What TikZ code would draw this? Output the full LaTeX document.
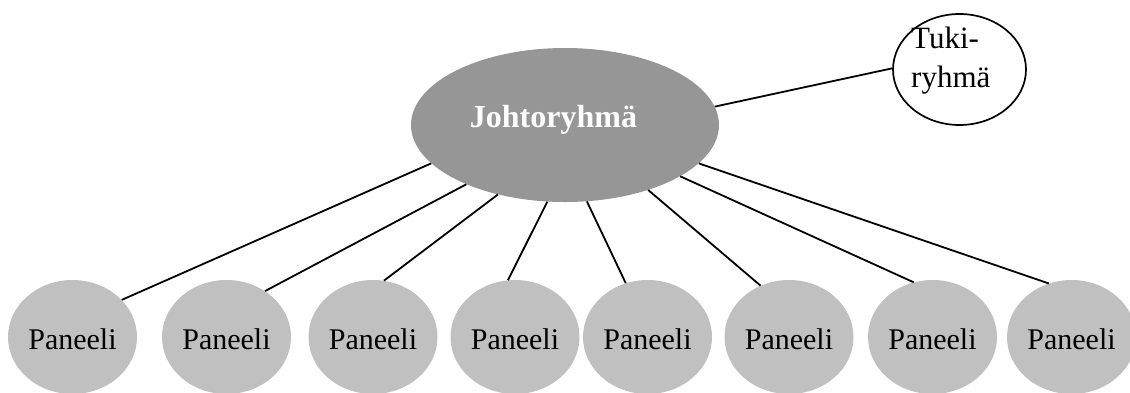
\documentclass[tikz,border=0pt]{standalone}
\usepackage{fontspec}
\setmainfont{Liberation Serif}
\usetikzlibrary{shapes.geometric}
\definecolor{headgray}{RGB}{150,150,150}
\definecolor{panelgray}{RGB}{192,192,192}
\begin{document}
\begin{tikzpicture}[x=1pt,y=-1pt,
  head/.style={ellipse,fill=headgray,minimum width=308pt,minimum height=154pt,inner sep=0pt},
  headtext/.style={inner sep=0pt,anchor=base,text=white,font=\bfseries\fontsize{32}{38}\selectfont},
  panel/.style={ellipse,fill=panelgray,minimum width=129pt,minimum height=114pt,inner sep=0pt,
    text height=24pt,text depth=0pt,font=\fontsize{30}{36}\selectfont},
  support/.style={ellipse,draw,line width=1.7pt,fill=white,minimum width=133pt,minimum height=111pt,inner sep=0pt},
  supporttext/.style={inner sep=0pt,anchor=base west,font=\fontsize{31}{37}\selectfont},
  link/.style={line width=1.8pt}]
\useasboundingbox (0,0) rectangle (1130,392);

% steering group and support group
\node[head] (J) at (565,125) {};
\node[headtext] (Jt) at (553.5,127) {Johtoryhmä};
\node[support] (T) at (959.5,69.5) {};
\node[supporttext] (Tt1) at (911,48) {Tuki-};
\node[supporttext] (Tt2) at (911,87) {ryhmä};

% panels
\node[panel] (P1) at (72.5,337) {Paneeli};
\node[panel] (P2) at (226.5,337) {Paneeli};
\node[panel] (P3) at (373,337) {Paneeli};
\node[panel] (P4) at (515,337) {Paneeli};
\node[panel] (P5) at (647.5,337) {Paneeli};
\node[panel] (P6) at (789,337) {Paneeli};
\node[panel] (P7) at (932.5,337) {Paneeli};
\node[panel] (P8) at (1071.5,337) {Paneeli};

% connections
\draw[link] (J.7) -- (T.179);
\draw[link] (J.196) -- (P1.37);
\draw[link] (J.211) -- (P2.50);
\draw[link] (J.226) -- (P3.79);
\draw[link] (J.257) -- (P4.97);
\draw[link] (J.286) -- (P5.112);
\draw[link] (J.322) -- (P6.119);
\draw[link] (J.336) -- (P7.109);
\draw[link] (J.344) -- (P8.113);
\end{tikzpicture}
\end{document}
